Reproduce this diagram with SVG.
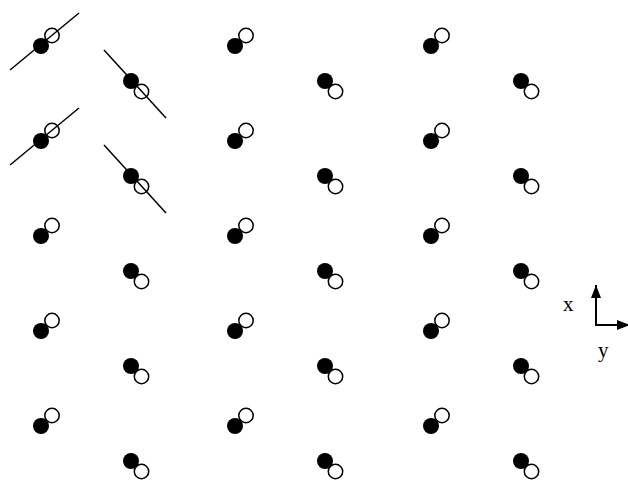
<svg xmlns="http://www.w3.org/2000/svg" xmlns:xlink="http://www.w3.org/1999/xlink" width="628" height="480" viewBox="0 0 628 480">
<style>
.b{fill:#000}
.w{fill:#fff;stroke:#000;stroke-width:1.5}
.ln{stroke:#000;stroke-width:1.5;fill:none}
.ax{stroke:#000;stroke-width:2;fill:none}
.lbl{font-family:"Liberation Serif","Times New Roman",serif;font-size:21px;fill:#000}
</style>
<defs>
<g id="up"><circle class="w" cx="11" cy="-10.5" r="7.2"/><circle class="b" cx="0" cy="0" r="8"/></g>
<g id="dn"><circle class="w" cx="10.5" cy="10.5" r="7.2"/><circle class="b" cx="0" cy="0" r="8"/></g>
<marker id="ah" viewBox="0 0 13 10" refX="13" refY="5" markerUnits="userSpaceOnUse" markerWidth="13" markerHeight="10" orient="auto"><path d="M0,0L13,5L0,10z" fill="#000"/></marker>
</defs>
<g id="pairs">
<g id="a1"><use xlink:href="#up" x="41" y="46"/></g>
<g id="a2"><use xlink:href="#up" x="41" y="141"/></g>
<g id="a3"><use xlink:href="#up" x="41" y="236"/></g>
<g id="a4"><use xlink:href="#up" x="41" y="331"/></g>
<g id="a5"><use xlink:href="#up" x="41" y="426"/></g>
<g id="b1"><use xlink:href="#dn" x="131" y="81"/></g>
<g id="b2"><use xlink:href="#dn" x="131" y="176"/></g>
<g id="b3"><use xlink:href="#dn" x="131" y="271"/></g>
<g id="b4"><use xlink:href="#dn" x="131" y="366"/></g>
<g id="b5"><use xlink:href="#dn" x="131" y="461"/></g>
<g id="c1"><use xlink:href="#up" x="235" y="46"/></g>
<g id="c2"><use xlink:href="#up" x="235" y="141"/></g>
<g id="c3"><use xlink:href="#up" x="235" y="236"/></g>
<g id="c4"><use xlink:href="#up" x="235" y="331"/></g>
<g id="c5"><use xlink:href="#up" x="235" y="426"/></g>
<g id="d1"><use xlink:href="#dn" x="325" y="81"/></g>
<g id="d2"><use xlink:href="#dn" x="325" y="176"/></g>
<g id="d3"><use xlink:href="#dn" x="325" y="271"/></g>
<g id="d4"><use xlink:href="#dn" x="325" y="366"/></g>
<g id="d5"><use xlink:href="#dn" x="325" y="461"/></g>
<g id="e1"><use xlink:href="#up" x="431" y="46"/></g>
<g id="e2"><use xlink:href="#up" x="431" y="141"/></g>
<g id="e3"><use xlink:href="#up" x="431" y="236"/></g>
<g id="e4"><use xlink:href="#up" x="431" y="331"/></g>
<g id="e5"><use xlink:href="#up" x="431" y="426"/></g>
<g id="f1"><use xlink:href="#dn" x="521" y="81"/></g>
<g id="f2"><use xlink:href="#dn" x="521" y="176"/></g>
<g id="f3"><use xlink:href="#dn" x="521" y="271"/></g>
<g id="f4"><use xlink:href="#dn" x="521" y="366"/></g>
<g id="f5"><use xlink:href="#dn" x="521" y="461"/></g>
</g>
<g id="connectors">
<line class="ln" x1="10" y1="70" x2="79" y2="13"/>
<line class="ln" x1="10" y1="165" x2="79" y2="108"/>
<line class="ln" x1="104" y1="50" x2="166" y2="118"/>
<line class="ln" x1="104" y1="145" x2="166" y2="213"/>
</g>
<g id="axes">
<path class="ax" d="M596,326V285" marker-end="url(#ah)"/>
<path class="ax" d="M595,325H630" marker-end="url(#ah)"/>
<text class="lbl" x="563" y="311">x</text>
<text class="lbl" x="598" y="357">y</text>
</g>
</svg>
